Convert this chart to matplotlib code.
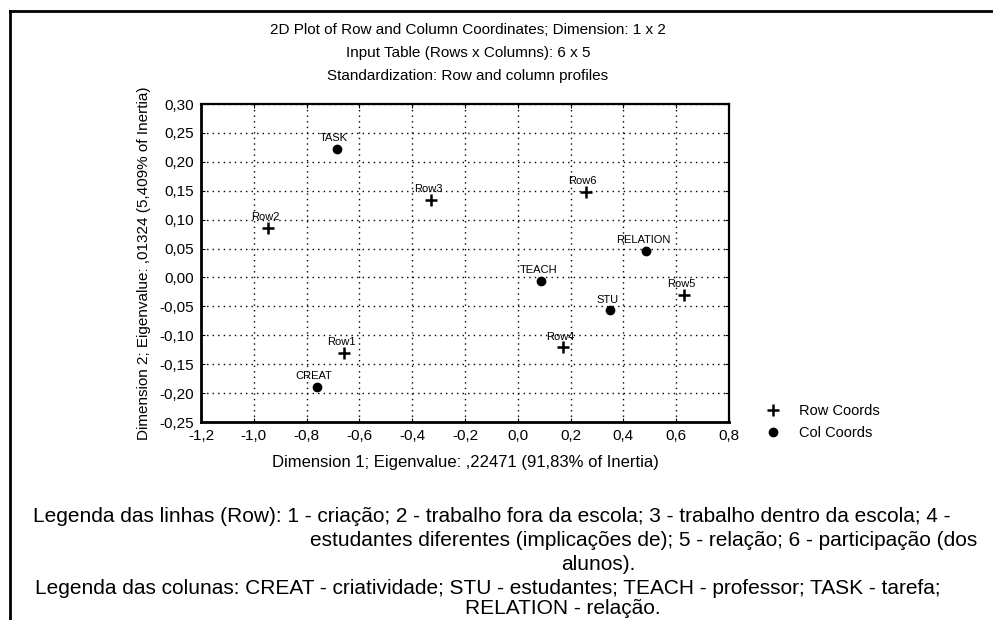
import matplotlib
matplotlib.use("Agg")
import matplotlib.pyplot as plt
from matplotlib.lines import Line2D
from matplotlib.ticker import FuncFormatter

plt.rcParams['font.family'] = ['Liberation Sans', 'DejaVu Sans']

# row coordinates
row_labels = ['Row1', 'Row2', 'Row3', 'Row4', 'Row5', 'Row6']
row_x = [-0.658, -0.945, -0.329, 0.170, 0.631, 0.257]
row_y = [-0.130, 0.086, 0.134, -0.121, -0.030, 0.148]

# column coordinates
col_labels = ['CREAT', 'STU', 'TEACH', 'TASK', 'RELATION']
col_x = [-0.761, 0.350, 0.088, -0.686, 0.486]
col_y = [-0.189, -0.057, -0.006, 0.223, 0.046]

x_ticks = [-1.2, -1.0, -0.8, -0.6, -0.4, -0.2, 0.0, 0.2, 0.4, 0.6, 0.8]
y_ticks = [-0.25, -0.20, -0.15, -0.10, -0.05, 0.00, 0.05, 0.10, 0.15, 0.20, 0.25, 0.30]

titles = ['2D Plot of Row and Column Coordinates; Dimension: 1 x 2',
          'Input Table (Rows x Columns): 6 x 5',
          'Standardization: Row and column profiles']

W, H = 993, 620
fig = plt.figure(figsize=(W / 100, H / 100), dpi=100)
ax = fig.add_axes([201 / W, 1 - 422 / H, (729 - 201) / W, (422 - 104) / H])

ax.plot(row_x, row_y, '+', color='black', markersize=8, markeredgewidth=1.8, label='Row Coords')
ax.plot(col_x, col_y, 'o', color='black', markersize=6, label='Col Coords')

for lab, x, y in zip(row_labels, row_x, row_y):
    ax.annotate(lab, (x, y), xytext=(-2, 4), textcoords='offset points',
                ha='center', va='bottom', fontsize=8)
for lab, x, y in zip(col_labels, col_x, col_y):
    ax.annotate(lab, (x, y), xytext=(-2, 4), textcoords='offset points',
                ha='center', va='bottom', fontsize=8)

ax.set_xlim(-1.2, 0.8)
ax.set_ylim(-0.25, 0.30)
ax.set_xticks(x_ticks)
ax.set_yticks(y_ticks)
ax.xaxis.set_major_formatter(FuncFormatter(lambda v, p: f'{v:.1f}'.replace('.', ',').replace('-0,0', '0,0')))
ax.yaxis.set_major_formatter(FuncFormatter(lambda v, p: f'{v:.2f}'.replace('.', ',').replace('-0,00', '0,00')))
ax.tick_params(direction='in', length=3, labelsize=11, top=True, right=True, pad=5)
ax.grid(True, color='black', linestyle=(0, (1, 3)), linewidth=1)
for s in ax.spines.values():
    s.set_linewidth(1.6)
ax.spines['left'].set_linewidth(2)
ax.spines['bottom'].set_linewidth(2)

ax.set_xlabel('Dimension 1; Eigenvalue: ,22471 (91,83% of Inertia)', fontsize=12, labelpad=9)
ax.set_ylabel('Dimension 2; Eigenvalue: ,01324 (5,409% of Inertia)', fontsize=11, labelpad=6)

for i, t in enumerate(titles):
    fig.text(468 / W, 1 - (30 + 23 * i) / H, t, ha='center', va='center', fontsize=11)

ax.legend(loc='center left', bbox_to_anchor=(1.045, 0.0), frameon=False, fontsize=10.5,
          handlelength=1, handletextpad=1.3, labelspacing=0.6)

# caption below the chart
fs = 15
fig.text(33 / W, 1 - 517 / H, 'Legenda das linhas (Row): 1 - criação; 2 - trabalho fora da escola; 3 - trabalho dentro da escola; 4 -',
         ha='left', va='center', fontsize=fs)
fig.text(977 / W, 1 - 541 / H, 'estudantes diferentes (implicações de); 5 - relação; 6 - participação (dos',
         ha='right', va='center', fontsize=fs)
fig.text(598 / W, 1 - 564 / H, 'alunos).', ha='center', va='center', fontsize=fs)
fig.text(35 / W, 1 - 588 / H, 'Legenda das colunas: CREAT - criatividade; STU - estudantes; TEACH - professor; TASK - tarefa;',
         ha='left', va='center', fontsize=fs)
fig.text(563 / W, 1 - 608 / H, 'RELATION - relação.', ha='center', va='center', fontsize=fs)

# page border (top and left)
fig.add_artist(Line2D([10 / W, 1], [1 - 11 / H, 1 - 11 / H], color='black', linewidth=2))
fig.add_artist(Line2D([10 / W, 10 / W], [0, 1 - 11 / H], color='black', linewidth=2))

fig.savefig('out.png', dpi=100)
